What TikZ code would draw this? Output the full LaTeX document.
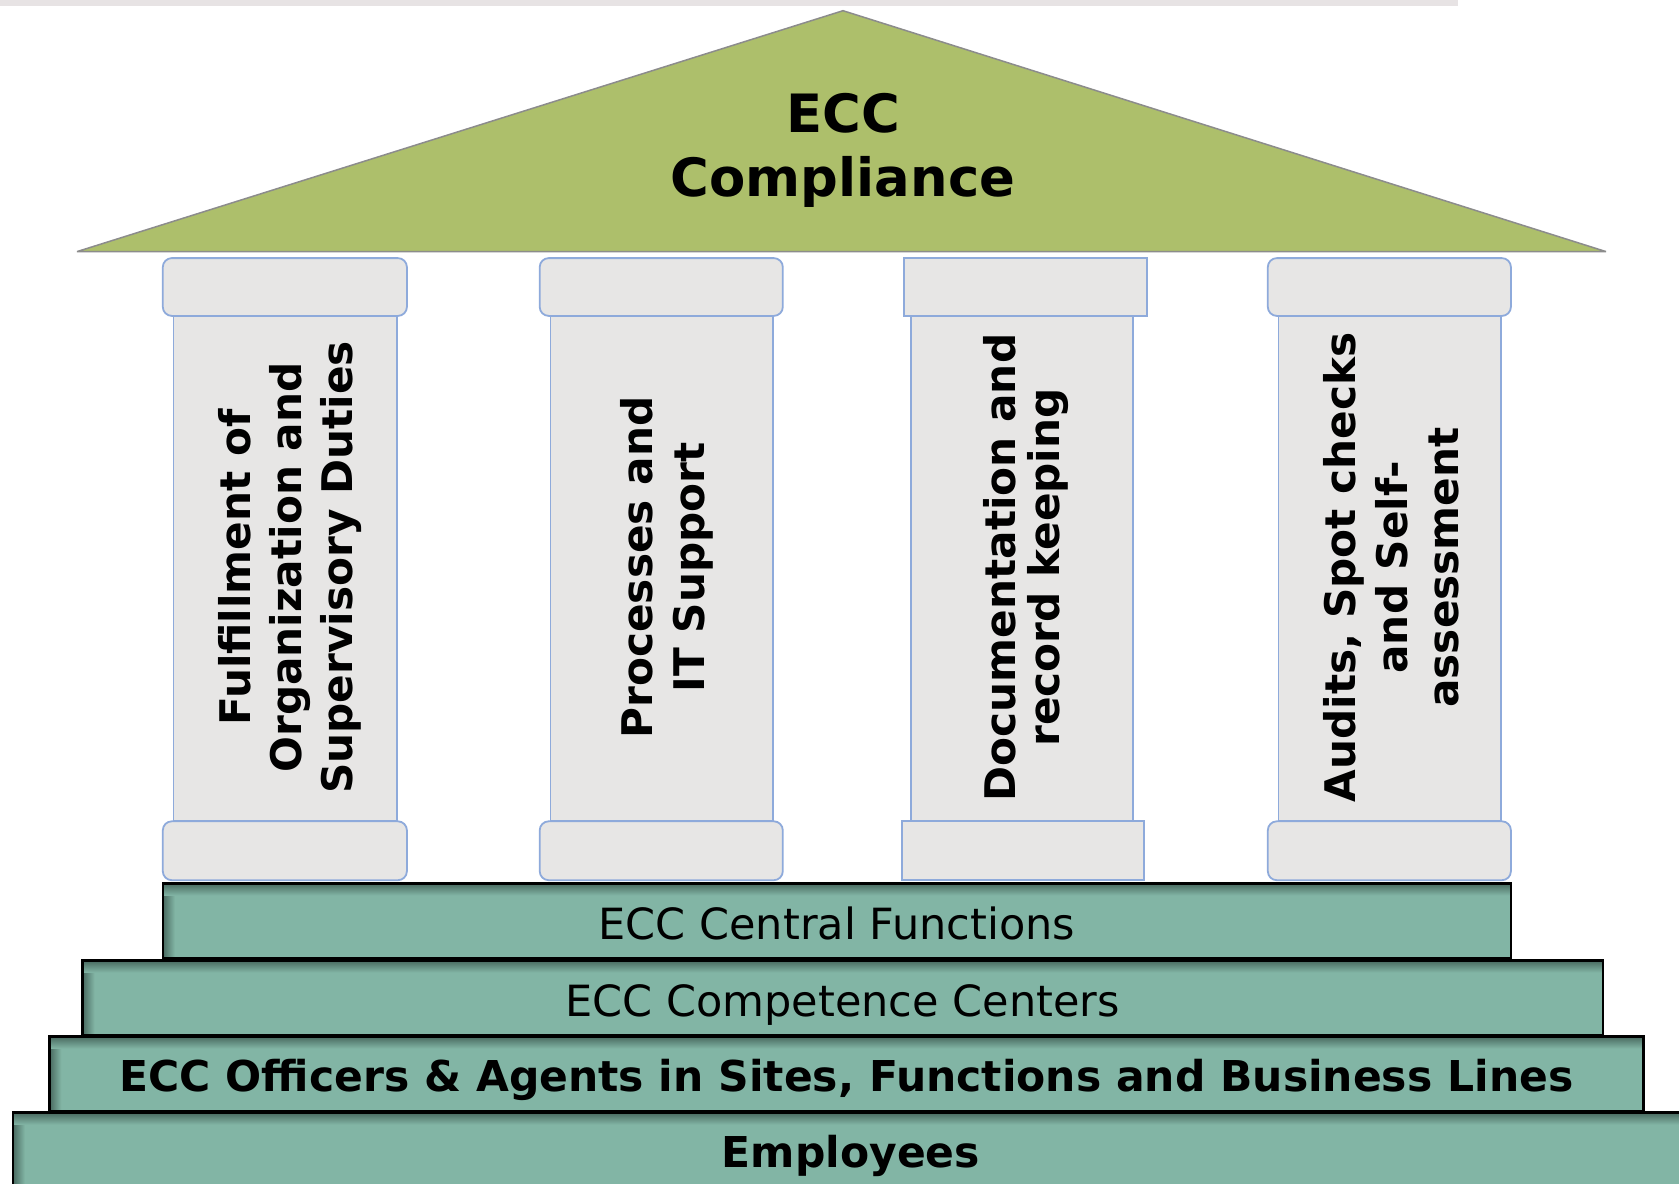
\documentclass[tikz,border=0pt]{standalone}
\usepackage{fontspec}
\setmainfont{DejaVu Sans}
\definecolor{roofc}{RGB}{173,191,107}
\definecolor{rooflc}{RGB}{140,140,140}
\definecolor{pillc}{RGB}{231,230,229}
\definecolor{pilllc}{RGB}{142,170,219}
\definecolor{stepc}{RGB}{130,181,165}
\definecolor{shadc}{RGB}{72,105,95}
\definecolor{barc}{RGB}{231,227,228}
\newcommand\mystepbg[4]{%
  \fill[stepc] (#1,#2) rectangle (#3,#4);
  \shade[left color=shadc, right color=stepc] (#1,#2) rectangle ({#1+12},#4);
  \shade[top color=shadc, bottom color=stepc] (#1,#2) rectangle (#3,{#2+12});
  \draw[line width=1.2pt] (#1,#2) rectangle (#3,#4);
}
\tikzset{
  pillarpart/.style={fill=pillc, draw=pilllc, line width=0.9pt},
  roundpart/.style={pillarpart, rounded corners=4.5pt},
  ptext/.style={rotate=90, align=center, text=black, font=\bfseries\fontsize{21.1}{25.7}\selectfont},
  stext/.style={text=black, font=\fontsize{21.5}{25}\selectfont},
  sbtext/.style={text=black, font=\bfseries\fontsize{21.25}{25}\selectfont},
}
\begin{document}
\begin{tikzpicture}[x=0.5pt,y=-0.5pt]
\useasboundingbox (0,0) rectangle (1679,1183);
% header bar
\fill[barc] (0,0) rectangle (1458,5.5);
% roof
\coordinate (apex) at (843,10.7);
\coordinate (rl) at (77,251.6);
\coordinate (rr) at (1606,251.6);
\draw[fill=roofc, draw=rooflc, line width=0.75pt, line join=bevel] (apex) -- (rr) -- (rl) -- cycle;
\node[align=center, font=\bfseries\fontsize{26.4}{32}\selectfont] (title) at (843,150.5) {ECC\\Compliance};
% pillar 1
\draw[pillarpart] (173.5,315.9) rectangle (397.3,821.3);
\draw[roundpart] (162.8,258.1) rectangle (406.9,315.9);
\draw[roundpart] (162.8,821.3) rectangle (406.9,880.2);
\node[ptext] (p1) at (290,567.5) {Fulfillment of\\Organization and\\Supervisory Duties};
% pillar 2
\draw[pillarpart] (550.4,315.9) rectangle (773.1,821.3);
\draw[roundpart] (539.7,258.1) rectangle (782.8,315.9);
\draw[roundpart] (539.7,821.3) rectangle (782.8,880.2);
\node[ptext] (p2) at (667,567.5) {Processes and\\IT Support};
% pillar 3
\draw[pillarpart] (911.3,315.9) rectangle (1132.9,821.3);
\draw[pillarpart] (903.8,258.1) rectangle (1146.8,315.9);
\draw[pillarpart] (901.6,821.3) rectangle (1143.6,880.2);
\node[ptext, font=\bfseries\fontsize{21.1}{21.6}\selectfont] (p3) at (1026,567.5) {Documentation and\\record keeping};
% pillar 4
\draw[pillarpart] (1278.5,315.9) rectangle (1501.3,821.3);
\draw[roundpart] (1267.8,258.1) rectangle (1510.9,315.9);
\draw[roundpart] (1267.8,821.3) rectangle (1510.9,880.2);
\node[ptext] (p4) at (1391.5,567.5) {Audits, Spot checks\\and Self-\\assessment};
% steps
\mystepbg{162.8}{883.4}{1510.9}{958.4}
\node[stext] (s1) at (836.8,923) {ECC Central Functions};
\mystepbg{82.5}{960.5}{1603}{1035.5}
\node[stext] (s2) at (842.7,1004.5) {ECC Competence Centers};
\mystepbg{49.3}{1036.5}{1643.6}{1111.5}
\node[sbtext] (s3) at (846.5,1080) {ECC Officers \& Agents in Sites, Functions and Business Lines};
\mystepbg{12.8}{1112.6}{1700}{1195}
\node[sbtext] (s4) at (851,1156) {Employees};
\end{tikzpicture}
\end{document}
